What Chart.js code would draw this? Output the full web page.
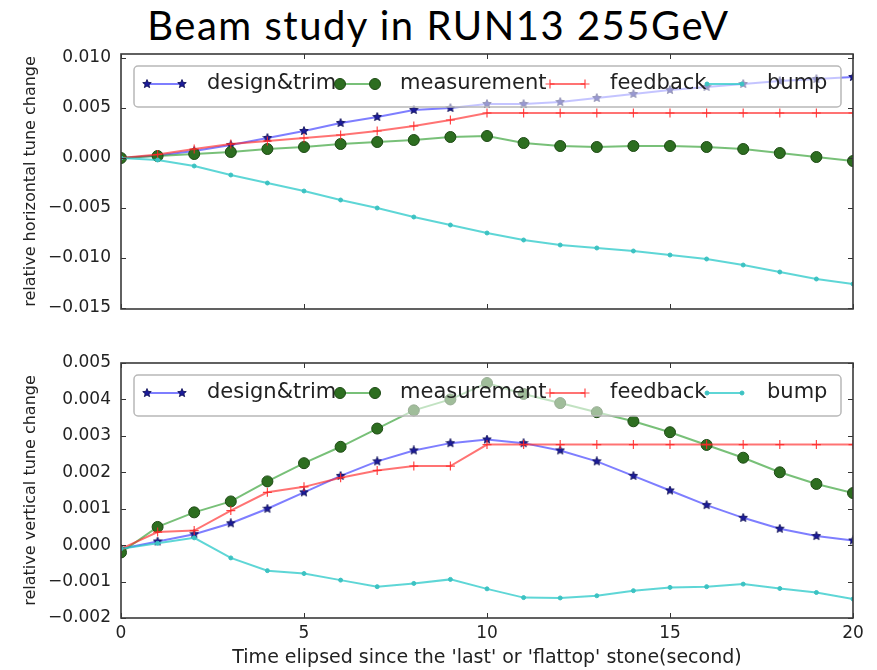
<!DOCTYPE html>
<html lang="en">
<head>
<meta charset="UTF-8">
<title>Beam study in RUN13 255GeV</title>
<script src="https://cdn.jsdelivr.net/npm/chart.js"></script>
<style>
  html, body { margin: 0; padding: 0; background: #fff; }
  body { width: 877px; height: 670px; position: relative; overflow: hidden; }
  #title { position: absolute; left: 0; top: 0; width: 877px; text-align: center;
           font-family: Lato, "Open Sans", sans-serif; font-size: 40px; letter-spacing: 1.5px;
           line-height: 50px; color: #000; }
  .panel { position: absolute; left: 0; width: 877px; }
</style>
</head>
<body>
<div id="title">Beam study in RUN13 255GeV</div>
<div class="panel" style="top:40px;height:280px"><canvas id="hChart" width="877" height="280"></canvas></div>
<div class="panel" style="top:330px;height:340px"><canvas id="vChart" width="877" height="340"></canvas></div>

<script>
// time since the stone (s)
const timeSec = [0, 1, 2, 3, 4, 5, 6, 7, 8, 9, 10, 11, 12, 13, 14, 15, 16, 17, 18, 19, 20];
const xTicks = [0, 5, 10, 15, 20];

// horizontal tune change
const hDesign = [0.0000, 0.00025, 0.0007, 0.0013, 0.0020, 0.0027, 0.0035, 0.0041, 0.0048, 0.0050, 0.0054,
                 0.0054, 0.0056, 0.0060, 0.0064, 0.0068, 0.0071, 0.0074, 0.0077, 0.0079, 0.0081];
const hMeas = [0.0000, 0.0002, 0.0004, 0.0006, 0.0009, 0.0011, 0.0014, 0.0016, 0.0018, 0.0021, 0.0022,
               0.0015, 0.0012, 0.0011, 0.0012, 0.0012, 0.0011, 0.0009, 0.0005, 0.0001, -0.0003];
const hFeedback = [0.0000, 0.00035, 0.0009, 0.0014, 0.0017, 0.0020, 0.0023, 0.0027, 0.0032, 0.0038, 0.0045,
                   0.0045, 0.0045, 0.0045, 0.0045, 0.0045, 0.0045, 0.0045, 0.0045, 0.0045, 0.0045];
const hBump = [0.0000, -0.0002, -0.0008, -0.0017, -0.0025, -0.0033, -0.0042, -0.0050, -0.0059, -0.0067, -0.0075,
               -0.0082, -0.0087, -0.0090, -0.0093, -0.0097, -0.0101, -0.0107, -0.0114, -0.0121, -0.0126];
const hTicks = [-0.015, -0.010, -0.005, 0, 0.005, 0.010];

// vertical tune change
const vDesign = [-0.0001, 0.0001, 0.0003, 0.0006, 0.0010, 0.00145, 0.0019, 0.0023, 0.0026, 0.0028, 0.0029,
                 0.0028, 0.0026, 0.0023, 0.0019, 0.0015, 0.0011, 0.00075, 0.00045, 0.00025, 0.00013];
const vMeas = [-0.0002, 0.0005, 0.0009, 0.0012, 0.00175, 0.00225, 0.0027, 0.0032, 0.0037, 0.0040, 0.00445,
               0.00415, 0.0039, 0.00365, 0.0034, 0.0031, 0.00275, 0.0024, 0.0020, 0.00168, 0.00143];
const vFeedback = [-0.0001, 0.00036, 0.0004, 0.00095, 0.00145, 0.0016, 0.00185, 0.00205, 0.00217, 0.00217, 0.00276,
                   0.00276, 0.00276, 0.00276, 0.00276, 0.00276, 0.00276, 0.00276, 0.00276, 0.00276, 0.00276];
const vBump = [-0.0001, 0.00005, 0.0002, -0.00035, -0.0007, -0.00078, -0.00096, -0.00114, -0.00105, -0.00094, -0.0012,
               -0.00144, -0.00145, -0.00139, -0.00125, -0.00116, -0.00114, -0.00107, -0.00119, -0.0013, -0.00148];
const vTicks = [-0.002, -0.001, 0, 0.001, 0.002, 0.003, 0.004, 0.005];

const seriesNames = ['design&trim', 'measurement', 'feedback', 'bump'];

// filled five point star used as the design&trim marker
function starImage(size, fill, edge) {
  const c = document.createElement('canvas');
  c.width = c.height = size;
  const g = c.getContext('2d');
  const r = size / 2 - 0.5, ri = r * 0.45;
  g.beginPath();
  for (let i = 0; i < 10; i++) {
    const a = -Math.PI / 2 + i * Math.PI / 5;
    const rr = i % 2 ? ri : r;
    g.lineTo(size / 2 + rr * Math.cos(a), size / 2 + rr * Math.sin(a));
  }
  g.closePath();
  g.fillStyle = fill;
  g.fill();
  g.strokeStyle = edge;
  g.lineWidth = 0.8;
  g.stroke();
  return c;
}
const star = starImage(10, '#1c1c9a', '#0c0c50');

function pts(vals) {
  return timeSec.map((t, i) => ({ x: t, y: vals[i] }));
}

function makeDatasets(design, meas, feedback, bump) {
  return [
    { label: seriesNames[0], data: pts(design), order: 4,
      borderColor: 'rgba(40,40,255,0.6)', borderWidth: 2,
      pointStyle: star, pointRadius: 5 },
    { label: seriesNames[1], data: pts(meas), order: 3,
      borderColor: 'rgba(30,150,30,0.6)', borderWidth: 2,
      pointStyle: 'circle', pointRadius: 5.5,
      pointBackgroundColor: '#2d6e20', pointBorderColor: '#1d4a14', pointBorderWidth: 1 },
    { label: seriesNames[2], data: pts(feedback), order: 2,
      borderColor: 'rgba(255,40,40,0.65)', borderWidth: 2,
      pointStyle: 'cross', pointRadius: 4.5,
      pointBorderColor: 'rgba(255,40,40,0.85)', pointBorderWidth: 1.2 },
    { label: seriesNames[3], data: pts(bump), order: 1,
      borderColor: 'rgba(40,200,200,0.75)', borderWidth: 2,
      pointStyle: 'circle', pointRadius: 2,
      pointBackgroundColor: '#3cc2c2', pointBorderColor: '#3cc2c2', pointBorderWidth: 1 }
  ];
}

function tickText(v) {
  return (v < 0 ? '\u2212' : '') + Math.abs(v).toFixed(3);
}

// box around the plot with short inward ticks
const framePlugin = {
  id: 'frame',
  afterDraw(chart, args, opts) {
    const { ctx, chartArea: a, scales } = chart;
    ctx.save();
    ctx.strokeStyle = '#333';
    ctx.lineWidth = 1;
    ctx.beginPath();
    xTicks.forEach(v => {
      const px = Math.round(scales.x.getPixelForValue(v)) + 0.5;
      ctx.moveTo(px, a.top); ctx.lineTo(px, a.top + 5);
      ctx.moveTo(px, a.bottom); ctx.lineTo(px, a.bottom - 5);
    });
    opts.yTicks.forEach(v => {
      const py = Math.round(scales.y.getPixelForValue(v)) + 0.5;
      ctx.moveTo(a.left, py); ctx.lineTo(a.left + 5, py);
      ctx.moveTo(a.right, py); ctx.lineTo(a.right - 5, py);
    });
    ctx.stroke();
    ctx.lineWidth = 1.6;
    ctx.strokeStyle = '#3a3a3a';
    ctx.strokeRect(a.left, a.top, a.right - a.left, a.bottom - a.top);
    ctx.restore();
  }
};

// legend box in a single row inside the plot, drawn over the lines
const handleStarts = [26, 219, 429, 586];
const boxLegendPlugin = {
  id: 'boxLegend',
  afterDatasetsDraw(chart) {
    const { ctx, chartArea: a } = chart;
    const x0 = a.left + 13, y0 = a.top + 12, w = 707, h = 41;
    ctx.save();
    ctx.beginPath();
    ctx.roundRect(x0, y0, w, h, 4);
    ctx.fillStyle = 'rgba(255,255,255,0.55)';
    ctx.fill();
    ctx.lineWidth = 1.5;
    ctx.strokeStyle = '#b8b8b8';
    ctx.stroke();
    const cy = a.top + 30;
    chart.data.datasets.forEach((ds, i) => {
      const hx = a.left + handleStarts[i], hx2 = hx + 35;
      ctx.beginPath();
      ctx.moveTo(hx, cy); ctx.lineTo(hx2, cy);
      ctx.strokeStyle = ds.borderColor;
      ctx.lineWidth = ds.borderWidth;
      ctx.stroke();
      const p = {
        pointStyle: ds.pointStyle, radius: ds.pointRadius, rotation: 0,
        borderWidth: ds.pointBorderWidth || 1
      };
      ctx.fillStyle = ds.pointBackgroundColor || ds.borderColor;
      ctx.strokeStyle = ds.pointBorderColor || ds.borderColor;
      ctx.lineWidth = p.borderWidth;
      Chart.helpers.drawPoint(ctx, p, hx, cy);
      Chart.helpers.drawPoint(ctx, p, hx2, cy);
      ctx.fillStyle = '#222';
      ctx.font = '21px "DejaVu Sans"';
      ctx.textBaseline = 'middle';
      ctx.textAlign = 'left';
      ctx.fillText(ds.label, hx2 + 25, cy);
    });
    ctx.restore();
  }
};

function makeOptions(yMin, yMax, yTicks, yTitle, showX, padding) {
  return {
    responsive: false,
    animation: false,
    devicePixelRatio: 1,
    layout: { padding: padding },
    elements: { line: { tension: 0 } },
    plugins: {
      legend: { display: false },
      tooltip: { enabled: false },
      frame: { yTicks: yTicks }
    },
    scales: {
      x: {
        type: 'linear', min: 0, max: 20,
        display: showX,
        afterBuildTicks: axis => { axis.ticks = xTicks.map(v => ({ value: v })); },
        afterFit: axis => {
          axis.height = showX ? 52 : 0;
          axis.paddingLeft = 0;
          axis.paddingRight = 0;
        },
        grid: { display: false, drawTicks: false },
        border: { display: false },
        ticks: { padding: 5, color: '#222', font: { family: 'DejaVu Sans', size: 17 } },
        title: {
          display: true,
          text: "Time elipsed since the 'last' or 'flattop' stone(second)",
          color: '#222', font: { family: 'DejaVu Sans', size: 19 },
          padding: { top: 0, bottom: 1 }
        }
      },
      y: {
        min: yMin, max: yMax,
        afterBuildTicks: axis => { axis.ticks = yTicks.map(v => ({ value: v })); },
        afterFit: axis => {
          axis.width = 121;
          axis.paddingTop = 0;
          axis.paddingBottom = 0;
        },
        grid: { display: false, drawTicks: false },
        border: { display: false },
        ticks: { padding: 10, color: '#222', callback: v => tickText(v),
                 font: { family: 'DejaVu Sans', size: 17 } },
        title: {
          display: true, text: yTitle,
          color: '#222', font: { family: 'DejaVu Sans', size: 16 },
          padding: { top: 21, bottom: 0 }
        }
      }
    }
  };
}

new Chart(document.getElementById('hChart'), {
  type: 'line',
  data: { datasets: makeDatasets(hDesign, hMeas, hFeedback, hBump) },
  options: makeOptions(-0.0151, 0.0104, hTicks, 'relative horizontal tune change', false,
                       { top: 14, right: 24, bottom: 11, left: 0 }),
  plugins: [framePlugin, boxLegendPlugin]
});

new Chart(document.getElementById('vChart'), {
  type: 'line',
  data: { datasets: makeDatasets(vDesign, vMeas, vFeedback, vBump) },
  options: makeOptions(-0.002, 0.005, vTicks, 'relative vertical tune change', true,
                       { top: 33, right: 24, bottom: 0, left: 0 }),
  plugins: [framePlugin, boxLegendPlugin]
});
</script>
</body>
</html>
